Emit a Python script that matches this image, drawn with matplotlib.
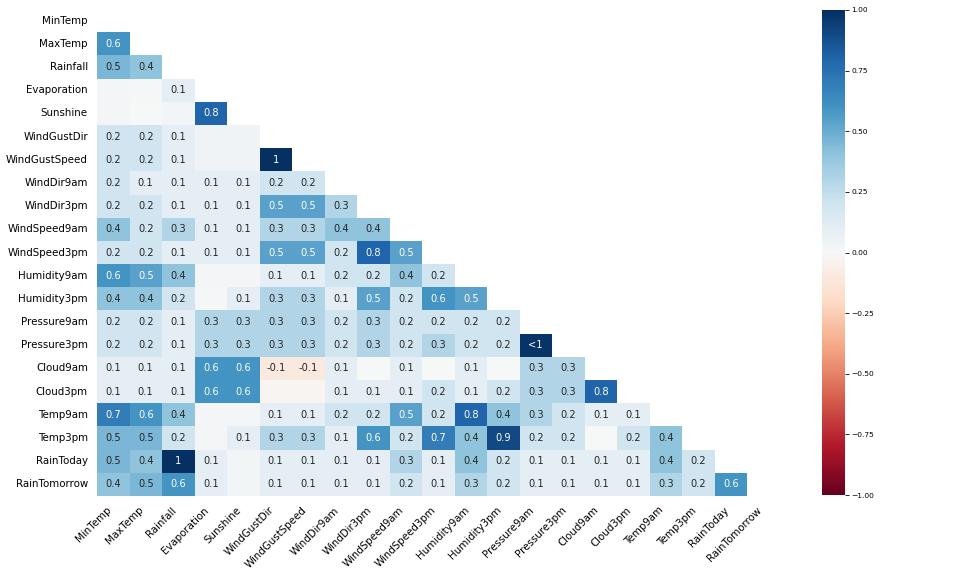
"""Nullity correlation heatmap (missingno style) for weather columns."""

import numpy as np
import matplotlib
matplotlib.use("Agg")
import matplotlib.pyplot as plt
import seaborn as sns

LABELS = ["MinTemp", "MaxTemp", "Rainfall", "Evaporation", "Sunshine", "WindGustDir",
          "WindGustSpeed", "WindDir9am", "WindDir3pm", "WindSpeed9am", "WindSpeed3pm",
          "Humidity9am", "Humidity3pm", "Pressure9am", "Pressure3pm", "Cloud9am",
          "Cloud3pm", "Temp9am", "Temp3pm", "RainToday", "RainTomorrow"]

# lower triangle, row i holds correlations with columns 0..i-1
LOWER = [
    [],
    [0.6],
    [0.46, 0.4],
    [0.02, 0.01, 0.1],
    [0.02, 0.0, 0.03, 0.8],
    [0.2, 0.2, 0.1, 0.04, 0.04],
    [0.2, 0.2, 0.1, 0.04, 0.04, 1.0],
    [0.2, 0.1, 0.1, 0.1, 0.1, 0.2, 0.2],
    [0.2, 0.2, 0.1, 0.1, 0.1, 0.54, 0.54, 0.3],
    [0.4, 0.2, 0.3, 0.1, 0.1, 0.3, 0.3, 0.4, 0.4],
    [0.2, 0.2, 0.1, 0.1, 0.1, 0.54, 0.54, 0.2, 0.8, 0.54],
    [0.6, 0.54, 0.4, 0.02, 0.02, 0.1, 0.1, 0.2, 0.2, 0.4, 0.2],
    [0.4, 0.4, 0.2, 0.01, 0.1, 0.3, 0.3, 0.1, 0.54, 0.2, 0.6, 0.54],
    [0.2, 0.2, 0.1, 0.3, 0.3, 0.3, 0.3, 0.2, 0.3, 0.2, 0.2, 0.2, 0.2],
    [0.2, 0.2, 0.1, 0.3, 0.3, 0.3, 0.3, 0.2, 0.3, 0.2, 0.3, 0.2, 0.2, 0.98],
    [0.1, 0.1, 0.1, 0.6, 0.6, -0.1, -0.1, 0.1, 0.0, 0.1, 0.0, 0.1, 0.0, 0.3, 0.3],
    [0.1, 0.1, 0.1, 0.6, 0.6, -0.02, -0.02, 0.1, 0.1, 0.1, 0.2, 0.1, 0.2, 0.3, 0.3, 0.8],
    [0.7, 0.6, 0.4, 0.02, 0.02, 0.1, 0.1, 0.2, 0.2, 0.54, 0.2, 0.8, 0.4, 0.3, 0.2, 0.1, 0.1],
    [0.46, 0.46, 0.2, 0.02, 0.1, 0.3, 0.3, 0.1, 0.6, 0.2, 0.7, 0.4, 0.9, 0.2, 0.2, 0.0, 0.2, 0.4],
    [0.46, 0.4, 1.0, 0.1, 0.03, 0.1, 0.1, 0.1, 0.1, 0.3, 0.1, 0.4, 0.2, 0.1, 0.1, 0.1, 0.1,
     0.4, 0.2],
    [0.4, 0.46, 0.6, 0.1, 0.03, 0.1, 0.1, 0.1, 0.1, 0.2, 0.1, 0.3, 0.2, 0.1, 0.1, 0.1, 0.1,
     0.3, 0.2, 0.6],
]

CBAR_TICKS = [-1, -0.75, -0.5, -0.25, 0, 0.25, 0.5, 0.75, 1]


def cell_text(t):
    if 0.95 <= t < 1:
        return "<1"
    if t == 1:
        return "1"
    if -0.05 < t < 0.05:
        return ""
    return f"{round(t, 1):g}"


n = len(LABELS)
corr = np.zeros((n, n))
for i, row in enumerate(LOWER):
    for j, v in enumerate(row):
        corr[i, j] = v
        corr[j, i] = v
mask = np.triu(np.ones((n, n), dtype=bool))
annot = np.array([[cell_text(corr[i, j]) for j in range(n)] for i in range(n)])

fig = plt.figure(figsize=(9.56, 5.74), dpi=100)
ax = fig.add_axes([97 / 956, 78 / 574, 682.5 / 956, 487 / 574])
cax = fig.add_axes([822 / 956, 79 / 574, 23 / 956, 485 / 574])

sns.heatmap(corr, mask=mask, cmap="RdBu", vmin=-1, vmax=1, ax=ax, cbar_ax=cax,
            annot=annot, fmt="", annot_kws={"size": 7.1},
            xticklabels=LABELS, yticklabels=LABELS)

# the lighter "0.5" cells carry dark text in the original
for txt in ax.texts:
    x, y = txt.get_position()
    v = corr[int(y), int(x)]
    if 0.45 <= v < 0.5:
        txt.set_color("#262626")

ax.set_xticklabels(ax.get_xticklabels(), rotation=45, ha="right", fontsize=7.4)
ax.set_yticklabels(ax.get_yticklabels(), rotation=0, fontsize=7.4)
ax.xaxis.set_ticks_position("none")
ax.yaxis.set_ticks_position("none")
ax.tick_params(axis="both", pad=3)
ax.patch.set_visible(False)

cax.set_yticks(CBAR_TICKS)
cax.set_yticklabels([f"{v:.2f}".replace("-", "\u2212") for v in CBAR_TICKS])
cax.tick_params(labelsize=5.4, length=3, width=0.6, pad=1.5)
for s in cax.spines.values():
    s.set_visible(False)

fig.savefig("out.png", dpi=100)
